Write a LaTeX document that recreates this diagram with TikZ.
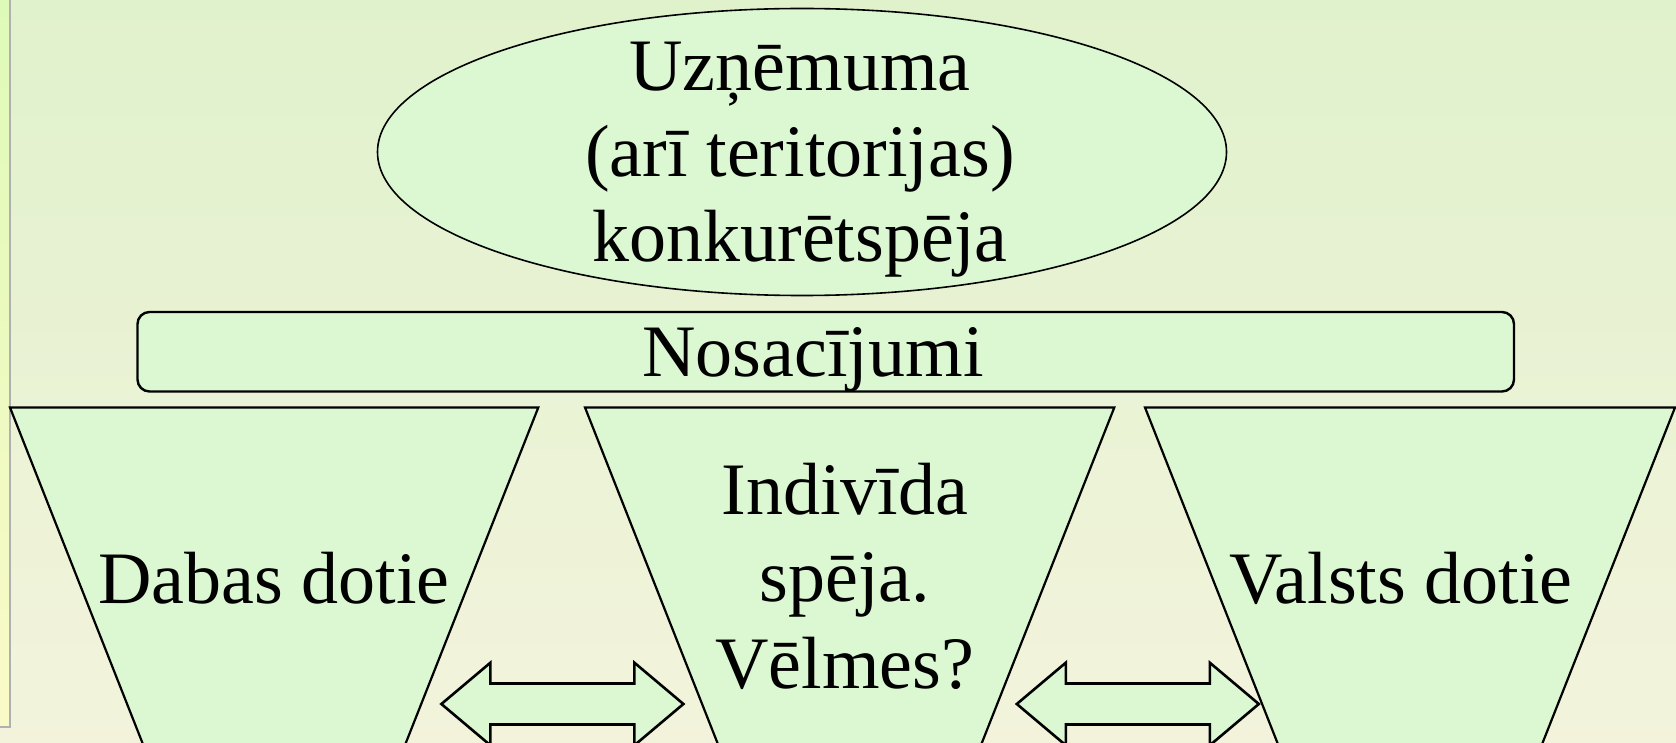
\documentclass[tikz,border=0pt]{standalone}
\usepackage{fontspec}
\setmainfont{Liberation Serif}
\usetikzlibrary{shapes.geometric}
\definecolor{bgtop}{RGB}{224,242,204}
\definecolor{bgbot}{RGB}{243,243,220}
\definecolor{shapefill}{RGB}{220,248,210}
\definecolor{striptop}{RGB}{222,250,184}
\definecolor{stripbot}{RGB}{250,250,200}
\definecolor{stripedge}{RGB}{176,176,176}
\tikzset{
  dblarrow/.pic={
    \draw[arrowshape] (-121,0) -- (-72,-41.3) -- (-72,-20.5) -- (72,-20.5) -- (72,-41.3)
      -- (121,0) -- (72,41.3) -- (72,20.5) -- (-72,20.5) -- (-72,41.3) -- cycle;
  }
}
\begin{document}
\begin{tikzpicture}[x=0.5pt,y=-0.5pt,
  every node/.style={inner sep=0pt, outer sep=0pt},
  bigtext/.style={font=\fontsize{37}{42.75}\selectfont, align=center},
  midtext/.style={font=\fontsize{37}{43.5}\selectfont, align=center},
  ellipsebox/.style={ellipse, draw=black, line width=0.8pt, fill=shapefill,
    minimum width=424.5pt, minimum height=143.5pt},
  condbox/.style={rectangle, rounded corners=6pt, draw=black, line width=1.2pt, fill=shapefill,
    minimum width=688.25pt, text height=32.35pt, text depth=7.4pt,
    font=\fontsize{37}{42.75}\selectfont},
  trapshape/.style={draw=black, line width=1.1pt, fill=shapefill, line join=miter},
  arrowshape/.style={draw=black, line width=1.3pt, fill=shapefill, line join=miter},
]
\useasboundingbox (0,0) rectangle (1676,743);
\clip (0,0) rectangle (1676,743);
% background
\fill[top color=bgtop, bottom color=bgbot] (0,0) rectangle (1676,743);
% left strip of neighbouring panel
\draw[stripedge, line width=1pt, top color=striptop, bottom color=stripbot] (-5,-5) rectangle (9.5,727);
% goal ellipse
\node[ellipsebox] (goal) at (802,152) {};
\node[bigtext] (goaltext) at (800,160) {Uzņēmuma\\(arī teritorijas)\\konkurētspēja};
% conditions bar
\node[condbox] (cond) at (825.75,351.75) {Nosacījumi\hspace*{12.75pt}};
% trapezoids
\draw[trapshape] (10,407.5) -- (538.3,407.5) -- (399.1,760) -- (149.2,760) -- cycle;
\draw[trapshape] (585,407.5) -- (1114.3,407.5) -- (975.1,760) -- (724.2,760) -- cycle;
\draw[trapshape] (1145,407.5) -- (1675,407.5) -- (1535.8,760) -- (1284.2,760) -- cycle;
\node[bigtext, anchor=base] (nature) at (274,603.3) {Dabas dotie};
\node[midtext] (person) at (845,576) {Indivīda\\spēja.\\Vēlmes?};
\node[bigtext, anchor=base] (state) at (1401,603.3) {Valsts dotie};
% double arrows
\pic (arrowL) at (562.4,704) {dblarrow};
\pic (arrowR) at (1137.8,704) {dblarrow};
\end{tikzpicture}
\end{document}
